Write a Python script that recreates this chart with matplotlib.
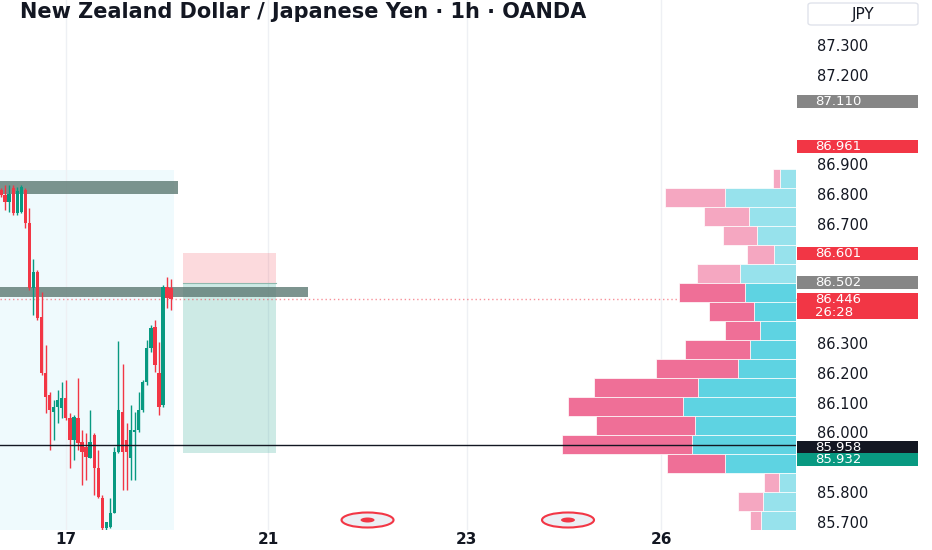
import matplotlib
matplotlib.use("Agg")
import matplotlib.pyplot as plt
from matplotlib.patches import Rectangle, Ellipse, FancyBboxPatch
from matplotlib.transforms import blended_transform_factory
import numpy as np

# ===== DATA =====
opens = [86.813, 86.797, 86.773, 86.820, 86.736, 86.740, 86.813, 86.703, 86.485, 86.538,
         86.387, 86.199, 86.126, 86.068, 86.085, 86.082, 86.115, 86.048, 85.975, 86.048,
         85.968, 85.951, 85.914, 85.991, 85.881, 85.780, 85.679, 85.683, 85.730, 85.934,
         86.068, 85.975, 85.914, 86.000, 86.008, 86.075, 86.169, 86.283, 86.354, 86.200,
         86.092, 86.488, 86.485]
closes = [86.797, 86.773, 86.800, 86.736, 86.810, 86.823, 86.703, 86.485, 86.538, 86.384,
          86.199, 86.119, 86.075, 86.085, 86.109, 86.115, 86.048, 85.975, 86.052, 85.964,
          85.934, 85.917, 85.968, 85.881, 85.783, 85.679, 85.699, 85.730, 85.934, 86.075,
          85.934, 85.934, 86.008, 86.008, 86.075, 86.169, 86.283, 86.350, 86.226, 86.085,
          86.488, 86.451, 86.446]
highs = [86.820, 86.830, 86.830, 86.830, 86.825, 86.830, 86.820, 86.753, 86.582, 86.545,
         86.471, 86.293, 86.136, 86.109, 86.142, 86.169, 86.176, 86.065, 86.058, 86.183,
         86.008, 85.998, 86.075, 85.998, 85.941, 85.790, 85.699, 85.780, 85.950, 86.307,
         86.230, 86.032, 86.092, 86.068, 86.136, 86.176, 86.310, 86.360, 86.377, 86.303,
         86.495, 86.521, 86.515]
lows = [86.790, 86.746, 86.740, 86.730, 86.730, 86.736, 86.686, 86.478, 86.395, 86.378,
        86.193, 86.065, 85.941, 85.975, 86.032, 86.048, 86.042, 85.881, 85.907, 85.941,
        85.823, 85.840, 85.914, 85.790, 85.780, 85.672, 85.672, 85.680, 85.730, 85.930,
        85.807, 85.807, 85.840, 85.840, 86.000, 86.070, 86.160, 86.270, 86.203, 86.058,
        86.085, 86.417, 86.410]

day_labels = ["17", "21", "23", "26"]
day_bars = [16, 66, 115, 163]

price_ticks = [85.7, 85.8, 85.9, 86.0, 86.1, 86.2, 86.3, 86.4, 86.5,
               86.6, 86.7, 86.8, 86.9, 87.0, 87.1, 87.2, 87.3]

# volume profile, rows from top (86.883) to bottom (85.672)
vp_top = 86.883
vp_bottom = 85.672
vp_up = [16, 71, 47, 39, 22, 56, 51, 42, 36, 46, 58, 98, 113, 101, 104, 71, 17, 33, 35]
vp_down = [7, 60, 45, 34, 27, 43, 66, 45, 35, 65, 82, 104, 115, 99, 130, 58, 15, 25, 11]
value_area = [False] * 6 + [True] * 10 + [False] * 3

# drawn levels
upper_zone = (86.800, 86.844)
lower_zone = (86.454, 86.488)
entry_price = 86.501
stop_price = 86.602
target_price = 85.931
last_price = 86.446
hline_price = 85.958
event_bars = [90.5, 140.0]

label_values = [87.110, 86.961, 86.601, 86.502, 86.446, 85.958, 85.932]
label_extra = ["", "", "", "", "26:28", "", ""]
label_colors = ["#868686", "#f23645", "#f23645", "#868686", "#f23645", "#131722", "#089981"]
label_shift_px = [0, 0, 0, 0, 0, -3, -7]   # pushed apart so boxes do not collide

# ===== COLORS =====
up_color = "#089981"
down_color = "#f23645"
text_color = "#131722"

# ===== LAYOUT =====
W, H = 932, 550
fig = plt.figure(figsize=(W / 100, H / 100), dpi=100)
fig.patch.set_facecolor("white")
plot_w = 800
plot_bottom = 20
bar_px = 4.05
x0 = -0.25
x1 = x0 + plot_w / bar_px
px_per_price = 298
y_lo = 87.3 - 485 / px_per_price
y_hi = 87.3 + 45 / px_per_price

ax = fig.add_axes([0, plot_bottom / H, plot_w / W, 1 - plot_bottom / H])
ax.set_xlim(x0, x1)
ax.set_ylim(y_lo, y_hi)
for s in ax.spines.values():
    s.set_visible(False)

# grid + time axis
ax.set_xticks(day_bars)
ax.set_xticklabels(day_labels, fontsize=11, fontweight="bold", color=text_color)
ax.tick_params(axis="x", length=0, pad=1.5)
ax.grid(axis="x", color="#eef0f4", lw=1)
ax.set_axisbelow(True)

# price axis (labels hidden where a price box sits right on top, like TradingView)
label_pos = [v + s / px_per_price for v, s in zip(label_values, label_shift_px)]
tick_text = []
for p in price_ticks:
    covered = any(abs(p - lp) * px_per_price < 14 for lp in label_pos)
    tick_text.append("" if covered else f"{p:.3f}")
ax.yaxis.tick_right()
ax.set_yticks(price_ticks)
ax.set_yticklabels(tick_text, fontsize=10.5, color=text_color)
ax.tick_params(axis="y", length=0, pad=12)

# shaded session + zones
ax.add_patch(Rectangle((x0 - 5, y_lo), 42.7 - x0 + 5, 86.88 - y_lo,
                       facecolor="#effafd", edgecolor="none", zorder=0.5))
ax.add_patch(Rectangle((x0 - 5, upper_zone[0]), 43.7 - x0 + 5, upper_zone[1] - upper_zone[0],
                       facecolor="#5d7a73", alpha=0.8, edgecolor="none", zorder=1.5))

# short position tool
ax.add_patch(Rectangle((44.9, entry_price), 23, stop_price - entry_price,
                       facecolor="#f23645", alpha=0.18, edgecolor="none", zorder=1))
ax.add_patch(Rectangle((44.9, target_price), 23, entry_price - target_price,
                       facecolor="#089981", alpha=0.2, edgecolor="none", zorder=1))
ax.plot([44.9, 67.9], [entry_price, entry_price], color="#8fb8ae", lw=0.8, zorder=1.2)

ax.add_patch(Rectangle((x0 - 5, lower_zone[0]), 75.8 - x0 + 5, lower_zone[1] - lower_zone[0],
                       facecolor="#5d7a73", alpha=0.8, edgecolor="none", zorder=1.5))

# last price dotted line
ax.axhline(last_price, color=down_color, lw=1, ls=(0, (1, 2)), alpha=0.55, zorder=1.4)

# candles
o = np.array(opens)
c = np.array(closes)
x = np.arange(len(o))
cols = np.where(c >= o, up_color, down_color)
ax.vlines(x, lows, highs, colors=cols, lw=1, zorder=3)
ax.bar(x, np.maximum(np.abs(c - o), 0.004), bottom=np.minimum(o, c), width=0.82,
       color=cols, edgecolor="none", zorder=3)

# event markers
ev_tr = blended_transform_factory(ax.transData, ax.transAxes)
for eb in event_bars:
    ax.add_patch(Ellipse((eb, 10 / 530), 52 / bar_px, 15 / 530, transform=ev_tr,
                         facecolor="#eceff4", edgecolor=down_color, lw=1.5, zorder=4))
    ax.add_patch(Ellipse((eb, 10 / 530), 14 / bar_px, 5 / 530, transform=ev_tr,
                         facecolor=down_color, edgecolor="none", zorder=5))

# ===== VOLUME PROFILE =====
vp_w = 796
vp = fig.add_axes([0, plot_bottom / H, vp_w / W, 1 - plot_bottom / H], sharey=ax)
vp.set_xlim(vp_w, 0)
vp.axis("off")
vp.patch.set_visible(False)
edges = np.linspace(vp_top, vp_bottom, len(vp_up) + 1)
centers = (edges[:-1] + edges[1:]) / 2
row_h = edges[0] - edges[1]
up_cols = ["#5ed3e2" if va else "#97e2ec" for va in value_area]
dn_cols = ["#ef6f97" if va else "#f5a7c1" for va in value_area]
vp.barh(centers, vp_up, height=row_h, left=0, color=up_cols, edgecolor="white", lw=0.5)
vp.barh(centers, vp_down, height=row_h, left=vp_up, color=dn_cols, edgecolor="white", lw=0.5)
vp.axhline(hline_price, color=text_color, lw=1, zorder=5)
ax.set_ylim(y_lo, y_hi)

# ===== PRICE LABELS =====
sx = fig.add_axes([797 / W, plot_bottom / H, (W - 797) / W, 1 - plot_bottom / H], sharey=ax)
sx.set_xlim(0, W - 797)
sx.axis("off")
sx.patch.set_visible(False)
box_h = 13 / px_per_price
line_gap = 13 / px_per_price
for val, yc, extra, col in zip(label_values, label_pos, label_extra, label_colors):
    top = yc + box_h / 2
    hgt = box_h + (line_gap if extra else 0)
    sx.add_patch(Rectangle((0, top - hgt), 121, hgt, facecolor=col, edgecolor="none", zorder=5))
    sx.text(18, yc, f"{val:.3f}", color="white", fontsize=9.5, va="center", ha="left", zorder=6)
    if extra:
        sx.text(18, yc - line_gap, extra, color="white", fontsize=9.5, va="center",
                ha="left", zorder=6)
ax.set_ylim(y_lo, y_hi)

# ===== HEADER =====
fig.text(20 / W, 1 - 12 / H, "New Zealand Dollar / Japanese Yen · 1h · OANDA",
         fontsize=15, fontweight="bold", color=text_color, va="center", ha="left")
fig.patches.append(FancyBboxPatch((808 / W, 1 - 25 / H), 110 / W, 22 / H,
                                  boxstyle="round,pad=0,rounding_size=0.004",
                                  transform=fig.transFigure, facecolor="white",
                                  edgecolor="#e0e3eb", lw=1))
fig.text(863 / W, 1 - 14 / H, "JPY", fontsize=11, color=text_color, va="center", ha="center")

fig.savefig("out.png", dpi=100)
